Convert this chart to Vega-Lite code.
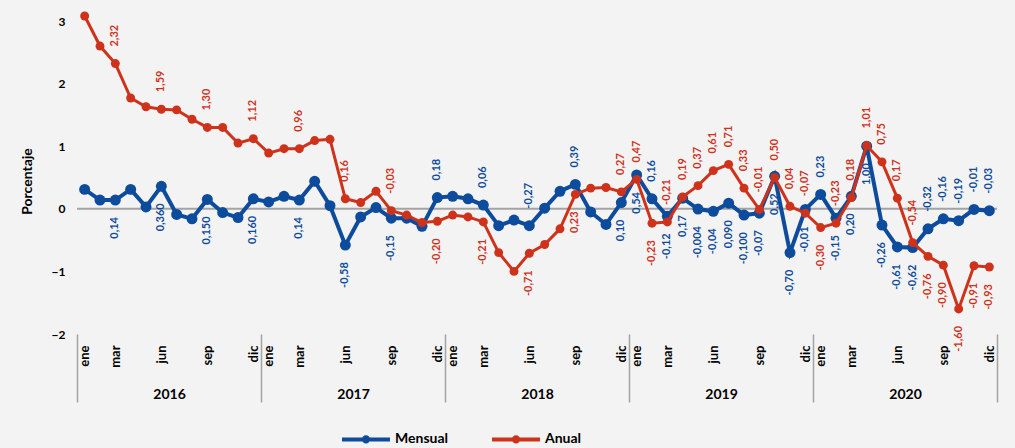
{
  "$schema": "https://vega.github.io/schema/vega-lite/v6.json",
  "width": 920,
  "height": 313,
  "autosize": {"type": "none"},
  "padding": {"left": 77, "top": 21, "right": 18, "bottom": 114},
  "background": "#f3f3f3",
  "config": {
    "view": {"stroke": null},
    "font": "Lato",
    "axis": {"labelFont": "Lato", "titleFont": "Lato", "labelColor": "#000000", "titleColor": "#000000", "labelFlush": false, "labelOverlap": false, "grid": false},
    "axisY": {"ticks": false, "domain": false, "labelPadding": 12, "labelFontSize": 12, "labelFontWeight": "bold", "titleFontSize": 14, "titleFontWeight": "bold", "titleAngle": -90, "titleX": -50, "titleY": 160, "titleAlign": "center", "titleBaseline": "middle"}
  },
  "datasets": {
    "ipc": [
      {"n":0,"periodo":"2016-01","serie":"Mensual","valor":0.31,"etiqueta":null},
      {"n":1,"periodo":"2016-02","serie":"Mensual","valor":0.14,"etiqueta":null},
      {"n":2,"periodo":"2016-03","serie":"Mensual","valor":0.14,"etiqueta":"0,14"},
      {"n":3,"periodo":"2016-04","serie":"Mensual","valor":0.31,"etiqueta":null},
      {"n":4,"periodo":"2016-05","serie":"Mensual","valor":0.03,"etiqueta":null},
      {"n":5,"periodo":"2016-06","serie":"Mensual","valor":0.36,"etiqueta":"0,360"},
      {"n":6,"periodo":"2016-07","serie":"Mensual","valor":-0.09,"etiqueta":null},
      {"n":7,"periodo":"2016-08","serie":"Mensual","valor":-0.16,"etiqueta":null},
      {"n":8,"periodo":"2016-09","serie":"Mensual","valor":0.15,"etiqueta":"0,150"},
      {"n":9,"periodo":"2016-10","serie":"Mensual","valor":-0.06,"etiqueta":null},
      {"n":10,"periodo":"2016-11","serie":"Mensual","valor":-0.14,"etiqueta":null},
      {"n":11,"periodo":"2016-12","serie":"Mensual","valor":0.16,"etiqueta":"0,160"},
      {"n":12,"periodo":"2017-01","serie":"Mensual","valor":0.11,"etiqueta":null},
      {"n":13,"periodo":"2017-02","serie":"Mensual","valor":0.20,"etiqueta":null},
      {"n":14,"periodo":"2017-03","serie":"Mensual","valor":0.14,"etiqueta":"0,14"},
      {"n":15,"periodo":"2017-04","serie":"Mensual","valor":0.44,"etiqueta":null},
      {"n":16,"periodo":"2017-05","serie":"Mensual","valor":0.05,"etiqueta":null},
      {"n":17,"periodo":"2017-06","serie":"Mensual","valor":-0.58,"etiqueta":"-0,58"},
      {"n":18,"periodo":"2017-07","serie":"Mensual","valor":-0.13,"etiqueta":null},
      {"n":19,"periodo":"2017-08","serie":"Mensual","valor":0.02,"etiqueta":null},
      {"n":20,"periodo":"2017-09","serie":"Mensual","valor":-0.15,"etiqueta":"-0,15"},
      {"n":21,"periodo":"2017-10","serie":"Mensual","valor":-0.15,"etiqueta":null},
      {"n":22,"periodo":"2017-11","serie":"Mensual","valor":-0.28,"etiqueta":null},
      {"n":23,"periodo":"2017-12","serie":"Mensual","valor":0.18,"etiqueta":"0,18"},
      {"n":24,"periodo":"2018-01","serie":"Mensual","valor":0.20,"etiqueta":null},
      {"n":25,"periodo":"2018-02","serie":"Mensual","valor":0.16,"etiqueta":null},
      {"n":26,"periodo":"2018-03","serie":"Mensual","valor":0.06,"etiqueta":"0,06"},
      {"n":27,"periodo":"2018-04","serie":"Mensual","valor":-0.27,"etiqueta":null},
      {"n":28,"periodo":"2018-05","serie":"Mensual","valor":-0.18,"etiqueta":null},
      {"n":29,"periodo":"2018-06","serie":"Mensual","valor":-0.27,"etiqueta":"-0,27"},
      {"n":30,"periodo":"2018-07","serie":"Mensual","valor":0.01,"etiqueta":null},
      {"n":31,"periodo":"2018-08","serie":"Mensual","valor":0.28,"etiqueta":null},
      {"n":32,"periodo":"2018-09","serie":"Mensual","valor":0.39,"etiqueta":"0,39"},
      {"n":33,"periodo":"2018-10","serie":"Mensual","valor":-0.05,"etiqueta":null},
      {"n":34,"periodo":"2018-11","serie":"Mensual","valor":-0.25,"etiqueta":null},
      {"n":35,"periodo":"2018-12","serie":"Mensual","valor":0.10,"etiqueta":"0,10"},
      {"n":36,"periodo":"2019-01","serie":"Mensual","valor":0.54,"etiqueta":"0,54"},
      {"n":37,"periodo":"2019-02","serie":"Mensual","valor":0.16,"etiqueta":"0,16"},
      {"n":38,"periodo":"2019-03","serie":"Mensual","valor":-0.12,"etiqueta":"-0,12"},
      {"n":39,"periodo":"2019-04","serie":"Mensual","valor":0.17,"etiqueta":"0,17"},
      {"n":40,"periodo":"2019-05","serie":"Mensual","valor":-0.004,"etiqueta":"-0,004"},
      {"n":41,"periodo":"2019-06","serie":"Mensual","valor":-0.04,"etiqueta":"-0,04"},
      {"n":42,"periodo":"2019-07","serie":"Mensual","valor":0.09,"etiqueta":"0,090"},
      {"n":43,"periodo":"2019-08","serie":"Mensual","valor":-0.10,"etiqueta":"-0,100"},
      {"n":44,"periodo":"2019-09","serie":"Mensual","valor":-0.07,"etiqueta":"-0,07"},
      {"n":45,"periodo":"2019-10","serie":"Mensual","valor":0.52,"etiqueta":"0,52"},
      {"n":46,"periodo":"2019-11","serie":"Mensual","valor":-0.70,"etiqueta":"-0,70"},
      {"n":47,"periodo":"2019-12","serie":"Mensual","valor":-0.01,"etiqueta":"-0,01"},
      {"n":48,"periodo":"2020-01","serie":"Mensual","valor":0.23,"etiqueta":"0,23"},
      {"n":49,"periodo":"2020-02","serie":"Mensual","valor":-0.15,"etiqueta":"-0,15"},
      {"n":50,"periodo":"2020-03","serie":"Mensual","valor":0.20,"etiqueta":"0,20"},
      {"n":51,"periodo":"2020-04","serie":"Mensual","valor":1.00,"etiqueta":"1,00"},
      {"n":52,"periodo":"2020-05","serie":"Mensual","valor":-0.26,"etiqueta":"-0,26"},
      {"n":53,"periodo":"2020-06","serie":"Mensual","valor":-0.61,"etiqueta":"-0,61"},
      {"n":54,"periodo":"2020-07","serie":"Mensual","valor":-0.62,"etiqueta":"-0,62"},
      {"n":55,"periodo":"2020-08","serie":"Mensual","valor":-0.32,"etiqueta":"-0,32"},
      {"n":56,"periodo":"2020-09","serie":"Mensual","valor":-0.16,"etiqueta":"-0,16"},
      {"n":57,"periodo":"2020-10","serie":"Mensual","valor":-0.19,"etiqueta":"-0,19"},
      {"n":58,"periodo":"2020-11","serie":"Mensual","valor":-0.01,"etiqueta":"-0,01"},
      {"n":59,"periodo":"2020-12","serie":"Mensual","valor":-0.03,"etiqueta":"-0,03"},
      {"n":0,"periodo":"2016-01","serie":"Anual","valor":3.08,"etiqueta":null},
      {"n":1,"periodo":"2016-02","serie":"Anual","valor":2.60,"etiqueta":null},
      {"n":2,"periodo":"2016-03","serie":"Anual","valor":2.32,"etiqueta":"2,32"},
      {"n":3,"periodo":"2016-04","serie":"Anual","valor":1.77,"etiqueta":null},
      {"n":4,"periodo":"2016-05","serie":"Anual","valor":1.63,"etiqueta":null},
      {"n":5,"periodo":"2016-06","serie":"Anual","valor":1.59,"etiqueta":"1,59"},
      {"n":6,"periodo":"2016-07","serie":"Anual","valor":1.58,"etiqueta":null},
      {"n":7,"periodo":"2016-08","serie":"Anual","valor":1.43,"etiqueta":null},
      {"n":8,"periodo":"2016-09","serie":"Anual","valor":1.30,"etiqueta":"1,30"},
      {"n":9,"periodo":"2016-10","serie":"Anual","valor":1.30,"etiqueta":null},
      {"n":10,"periodo":"2016-11","serie":"Anual","valor":1.05,"etiqueta":null},
      {"n":11,"periodo":"2016-12","serie":"Anual","valor":1.12,"etiqueta":"1,12"},
      {"n":12,"periodo":"2017-01","serie":"Anual","valor":0.89,"etiqueta":null},
      {"n":13,"periodo":"2017-02","serie":"Anual","valor":0.96,"etiqueta":null},
      {"n":14,"periodo":"2017-03","serie":"Anual","valor":0.96,"etiqueta":"0,96"},
      {"n":15,"periodo":"2017-04","serie":"Anual","valor":1.09,"etiqueta":null},
      {"n":16,"periodo":"2017-05","serie":"Anual","valor":1.11,"etiqueta":null},
      {"n":17,"periodo":"2017-06","serie":"Anual","valor":0.16,"etiqueta":"0,16"},
      {"n":18,"periodo":"2017-07","serie":"Anual","valor":0.10,"etiqueta":null},
      {"n":19,"periodo":"2017-08","serie":"Anual","valor":0.28,"etiqueta":null},
      {"n":20,"periodo":"2017-09","serie":"Anual","valor":-0.03,"etiqueta":"-0,03"},
      {"n":21,"periodo":"2017-10","serie":"Anual","valor":-0.10,"etiqueta":null},
      {"n":22,"periodo":"2017-11","serie":"Anual","valor":-0.22,"etiqueta":null},
      {"n":23,"periodo":"2017-12","serie":"Anual","valor":-0.20,"etiqueta":"-0,20"},
      {"n":24,"periodo":"2018-01","serie":"Anual","valor":-0.10,"etiqueta":null},
      {"n":25,"periodo":"2018-02","serie":"Anual","valor":-0.13,"etiqueta":null},
      {"n":26,"periodo":"2018-03","serie":"Anual","valor":-0.21,"etiqueta":"-0,21"},
      {"n":27,"periodo":"2018-04","serie":"Anual","valor":-0.70,"etiqueta":null},
      {"n":28,"periodo":"2018-05","serie":"Anual","valor":-1.00,"etiqueta":null},
      {"n":29,"periodo":"2018-06","serie":"Anual","valor":-0.71,"etiqueta":"-0,71"},
      {"n":30,"periodo":"2018-07","serie":"Anual","valor":-0.57,"etiqueta":null},
      {"n":31,"periodo":"2018-08","serie":"Anual","valor":-0.32,"etiqueta":null},
      {"n":32,"periodo":"2018-09","serie":"Anual","valor":0.23,"etiqueta":"0,23"},
      {"n":33,"periodo":"2018-10","serie":"Anual","valor":0.33,"etiqueta":null},
      {"n":34,"periodo":"2018-11","serie":"Anual","valor":0.34,"etiqueta":null},
      {"n":35,"periodo":"2018-12","serie":"Anual","valor":0.27,"etiqueta":"0,27"},
      {"n":36,"periodo":"2019-01","serie":"Anual","valor":0.47,"etiqueta":"0,47"},
      {"n":37,"periodo":"2019-02","serie":"Anual","valor":-0.23,"etiqueta":"-0,23"},
      {"n":38,"periodo":"2019-03","serie":"Anual","valor":-0.21,"etiqueta":"-0,21"},
      {"n":39,"periodo":"2019-04","serie":"Anual","valor":0.19,"etiqueta":"0,19"},
      {"n":40,"periodo":"2019-05","serie":"Anual","valor":0.37,"etiqueta":"0,37"},
      {"n":41,"periodo":"2019-06","serie":"Anual","valor":0.61,"etiqueta":"0,61"},
      {"n":42,"periodo":"2019-07","serie":"Anual","valor":0.71,"etiqueta":"0,71"},
      {"n":43,"periodo":"2019-08","serie":"Anual","valor":0.33,"etiqueta":"0,33"},
      {"n":44,"periodo":"2019-09","serie":"Anual","valor":-0.01,"etiqueta":"-0,01"},
      {"n":45,"periodo":"2019-10","serie":"Anual","valor":0.50,"etiqueta":"0,50"},
      {"n":46,"periodo":"2019-11","serie":"Anual","valor":0.04,"etiqueta":"0,04"},
      {"n":47,"periodo":"2019-12","serie":"Anual","valor":-0.07,"etiqueta":"-0,07"},
      {"n":48,"periodo":"2020-01","serie":"Anual","valor":-0.30,"etiqueta":"-0,30"},
      {"n":49,"periodo":"2020-02","serie":"Anual","valor":-0.23,"etiqueta":"-0,23"},
      {"n":50,"periodo":"2020-03","serie":"Anual","valor":0.18,"etiqueta":"0,18"},
      {"n":51,"periodo":"2020-04","serie":"Anual","valor":1.01,"etiqueta":"1,01"},
      {"n":52,"periodo":"2020-05","serie":"Anual","valor":0.75,"etiqueta":"0,75"},
      {"n":53,"periodo":"2020-06","serie":"Anual","valor":0.17,"etiqueta":"0,17"},
      {"n":54,"periodo":"2020-07","serie":"Anual","valor":-0.54,"etiqueta":"-0,54"},
      {"n":55,"periodo":"2020-08","serie":"Anual","valor":-0.76,"etiqueta":"-0,76"},
      {"n":56,"periodo":"2020-09","serie":"Anual","valor":-0.90,"etiqueta":"-0,90"},
      {"n":57,"periodo":"2020-10","serie":"Anual","valor":-1.60,"etiqueta":"-1,60"},
      {"n":58,"periodo":"2020-11","serie":"Anual","valor":-0.91,"etiqueta":"-0,91"},
      {"n":59,"periodo":"2020-12","serie":"Anual","valor":-0.93,"etiqueta":"-0,93"}
    ]
  },
  "data": {"name": "ipc"},
  "transform": [
    {"calculate": "datum.serie === 'Anual' ? datum.valor : 0", "as": "va"},
    {"calculate": "datum.serie === 'Mensual' ? datum.valor : 0", "as": "vm"},
    {"joinaggregate": [{"op": "sum", "field": "va", "as": "anual_mes"}, {"op": "sum", "field": "vm", "as": "mensual_mes"}], "groupby": ["n"]},
    {"calculate": "datum.serie === 'Anual' ? (datum.valor >= datum.mensual_mes - 0.1 ? 'arriba' : 'abajo') : (datum.valor > datum.anual_mes + 0.1 ? 'arriba' : 'abajo')", "as": "lado"}
  ],
  "layer": [
    {
      "data": {"values": [{"referencia": 0}]},
      "mark": {"type": "rule", "color": "#a3a3a3", "strokeWidth": 2},
      "encoding": {
        "y": {"field": "referencia", "type": "quantitative", "title": "Porcentaje", "scale": {"domain": [-2, 3], "nice": false, "zero": false}, "axis": {"values": [-2,-1,0,1,2,3]}}
      }
    },
    {
      "transform": [{"filter": "datum.serie === 'Mensual'"}],
      "mark": {"type": "line", "strokeWidth": 4, "point": {"filled": true, "size": 120, "opacity": 1}},
      "encoding": {
        "x": {"field": "n", "type": "quantitative", "scale": {"domain": [-0.5, 59.5], "nice": false, "zero": false},
          "axis": {"orient": "bottom", "values": [0,2,5,8,11,12,14,17,20,23,24,26,29,32,35,36,38,41,44,47,48,50,53,56,59],
            "labelExpr": "['ene','feb','mar','abr','may','jun','jul','ago','sep','oct','nov','dic'][datum.value % 12]",
            "labelAngle": -90, "labelPadding": 11, "ticks": false, "domain": false, "title": null,
            "labelFontSize": 13, "labelFontWeight": "bold"}},
        "y": {"field": "valor", "type": "quantitative", "title": "Porcentaje", "scale": {"domain": [-2, 3], "nice": false, "zero": false}, "axis": {"values": [-2,-1,0,1,2,3]}},
        "color": {"field": "serie", "type": "nominal",
          "scale": {"domain": ["Mensual", "Anual"], "range": ["#0d4b9c", "#cf321b"]},
          "legend": {"orient": "none", "legendX": 263, "legendY": 392, "direction": "horizontal", "title": null,
            "symbolType": "M-1,0L1,0M-0.09,0A0.09,0.09,0,1,0,0.09,0A0.09,0.09,0,1,0,-0.09,0",
            "symbolSize": 2304, "symbolStrokeWidth": 4,
            "labelFont": "Lato", "labelFontSize": 14, "labelFontWeight": "bold", "labelColor": "#000000",
            "labelOffset": 3, "columnPadding": 35}}
      }
    },
    {
      "transform": [{"filter": "datum.serie === 'Anual'"}],
      "mark": {"type": "line", "strokeWidth": 3, "point": {"filled": true, "size": 80, "opacity": 1}},
      "encoding": {
        "x": {"field": "n", "type": "quantitative", "scale": {"domain": [-0.5, 59.5], "nice": false, "zero": false}, "axis": null},
        "y": {"field": "valor", "type": "quantitative", "title": "Porcentaje", "axis": {"values": [-2,-1,0,1,2,3]}},
        "color": {"field": "serie", "type": "nominal",
          "scale": {"domain": ["Mensual", "Anual"], "range": ["#0d4b9c", "#cf321b"]},
          "legend": {"orient": "none", "legendX": 263, "legendY": 392, "direction": "horizontal", "title": null,
            "symbolType": "M-1,0L1,0M-0.09,0A0.09,0.09,0,1,0,0.09,0A0.09,0.09,0,1,0,-0.09,0",
            "symbolSize": 2304, "symbolStrokeWidth": 4,
            "labelFont": "Lato", "labelFontSize": 14, "labelFontWeight": "bold", "labelColor": "#000000",
            "labelOffset": 3, "columnPadding": 35}}
      }
    },
    {
      "transform": [{"filter": "datum.etiqueta != null && datum.lado === 'arriba'"}],
      "mark": {"type": "text", "angle": 270, "align": "left", "baseline": "middle", "dx": 17, "font": "Lato", "fontSize": 11, "fontWeight": "bold"},
      "encoding": {
        "x": {"field": "n", "type": "quantitative", "scale": {"domain": [-0.5, 59.5], "nice": false, "zero": false},
          "axis": {"orient": "bottom", "values": [-0.5, 11.5, 23.5, 35.5, 47.5, 59.5], "labels": false, "ticks": true, "tickSize": 68, "tickColor": "#a3a3a3", "tickWidth": 1.5, "domain": false, "title": null}},
        "y": {"field": "valor", "type": "quantitative", "title": "Porcentaje", "axis": {"values": [-2,-1,0,1,2,3]}},
        "text": {"field": "etiqueta"},
        "color": {"condition": {"test": "datum.serie === 'Anual'", "value": "#cf321b"}, "value": "#0d4b9c"}
      }
    },
    {
      "transform": [{"filter": "datum.etiqueta != null && datum.lado === 'abajo'"}],
      "mark": {"type": "text", "angle": 270, "align": "right", "baseline": "middle", "dx": -17, "font": "Lato", "fontSize": 11, "fontWeight": "bold"},
      "encoding": {
        "x": {"field": "n", "type": "quantitative", "scale": {"domain": [-0.5, 59.5], "nice": false, "zero": false},
          "axis": {"orient": "bottom", "values": [5.5, 17.5, 29.5, 41.5, 53.5], "labelExpr": "'' + (2016 + floor(datum.value / 12))",
            "labelAngle": 0, "labelPadding": 53, "ticks": false, "domain": false, "title": null, "labelFontSize": 14, "labelFontWeight": "bold"}},
        "y": {"field": "valor", "type": "quantitative", "title": "Porcentaje", "axis": {"values": [-2,-1,0,1,2,3]}},
        "text": {"field": "etiqueta"},
        "color": {"condition": {"test": "datum.serie === 'Anual'", "value": "#cf321b"}, "value": "#0d4b9c"}
      }
    }
  ],
  "resolve": {"axis": {"x": "independent"}}
}
